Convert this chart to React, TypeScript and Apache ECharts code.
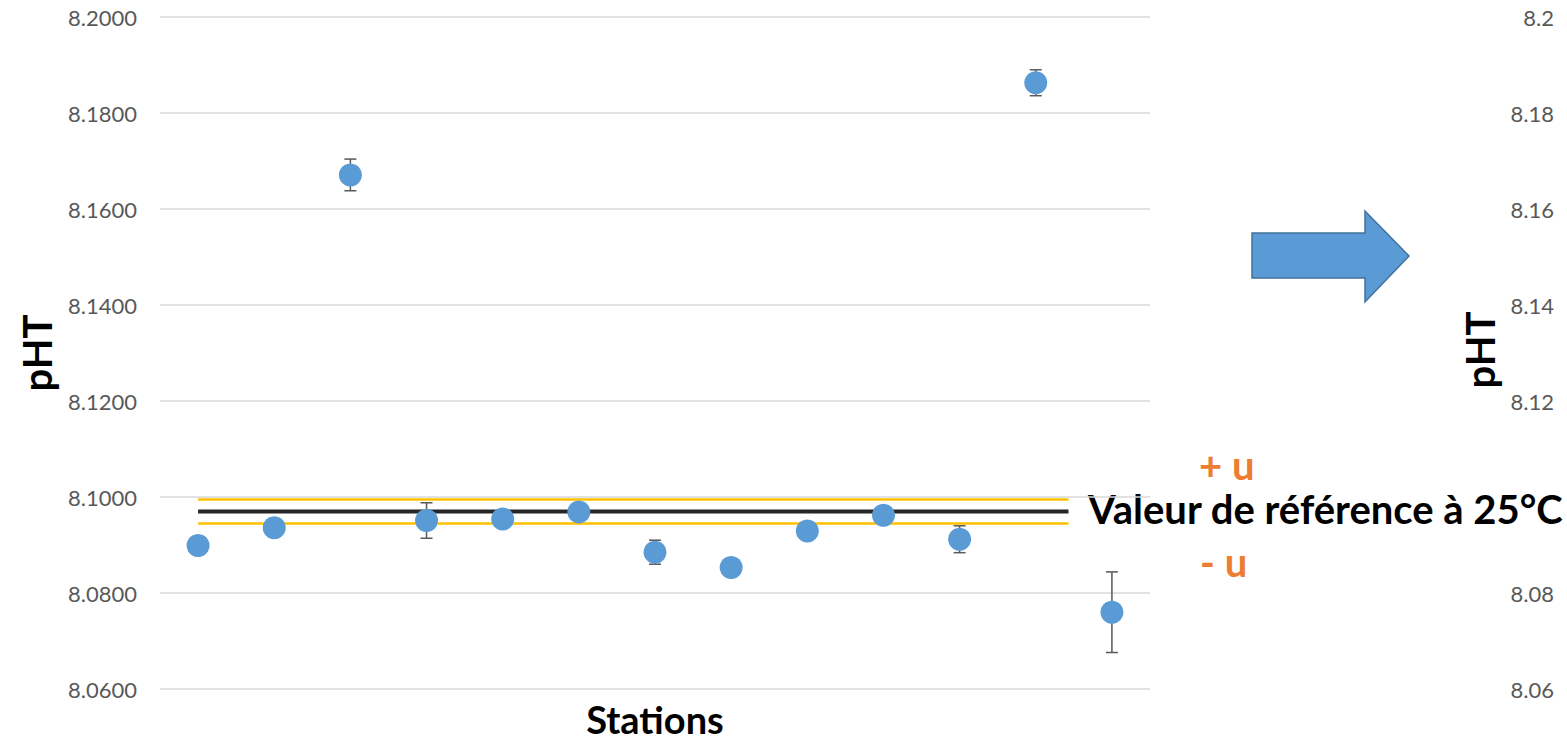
import React, { useEffect, useRef } from "react";
import * as echarts from "echarts";

const stations = ["1", "2", "3", "4", "5", "6", "7", "8", "9", "10", "11", "12", "13"];
const phValues = [8.0899, 8.0936, 8.1671, 8.0951, 8.0954, 8.0969, 8.0885, 8.0853, 8.0929, 8.0962, 8.0912, 8.1863, 8.0760];
const phErrors = [0, 0, 0.0033, 0.0037, 0, 0, 0.0025, 0, 0, 0, 0.0028, 0.0027, 0.0084];
const refValue = 8.097;
const refU = 0.0025;
const refLineSpan = [0, 11.43];
const yTicks = { min: 8.06, max: 8.2, interval: 0.02 };

const FONT = "Lato";

export default function App() {
  const ref = useRef<HTMLDivElement>(null);
  useEffect(() => {
    if (!ref.current) return;
    const chart = echarts.init(ref.current, null, { renderer: "svg" });
    const points = stations.map((_, i) => [i, phValues[i]]);
    const bars = stations
      .map((_, i) => [i, phValues[i] - phErrors[i], phValues[i] + phErrors[i], phErrors[i]])
      .filter((d) => d[3] > 0);
    const hline = (v: number) => refLineSpan.map((x) => [x, v]);

    chart.setOption({
      animation: false,
      grid: { left: 160, right: 417, top: 17, bottom: 55, outerBoundsMode: "none", containLabel: false },
      xAxis: {
        type: "value",
        min: -0.5,
        max: 12.5,
        axisLine: { show: false },
        axisTick: { show: false },
        axisLabel: { show: false },
        splitLine: { show: false },
        name: "Stations",
        nameLocation: "middle",
        nameGap: 11,
        nameTextStyle: { fontFamily: FONT, fontWeight: "bold", fontSize: 38, lineHeight: 38, color: "#000" },
      },
      yAxis: [
        {
          type: "value",
          min: yTicks.min,
          max: yTicks.max,
          interval: yTicks.interval,
          axisLine: { show: false },
          axisTick: { show: false },
          axisLabel: {
            fontFamily: FONT,
            fontSize: 22,
            color: "#595959",
            margin: 23,
            formatter: (v: number) => v.toFixed(4),
          },
          splitLine: { lineStyle: { color: "#D9D9D9", width: 1.5 } },
          name: "pHT",
          nameLocation: "middle",
          nameGap: 101,
          nameTextStyle: { fontFamily: FONT, fontWeight: "bold", fontSize: 40, color: "#000" },
        },
        {
          type: "value",
          position: "right",
          min: yTicks.min,
          max: yTicks.max,
          interval: yTicks.interval,
          offset: 396,
          axisLine: { show: false },
          axisTick: { show: false },
          splitLine: { show: false },
          axisLabel: {
            fontFamily: FONT,
            fontSize: 22,
            color: "#595959",
            margin: 8,
            align: "right",
            formatter: (v: number) => {
              const s = String(parseFloat(v.toFixed(2)));
              return Math.abs(v - 8.1) < 1e-6 ? "" : s;
            },
          },
        },
      ],
      series: [
        {
          type: "line",
          data: hline(refValue + refU),
          symbol: "none",
          lineStyle: { color: "#FFC000", width: 2.5 },
          z: 1,
        },
        {
          type: "line",
          data: hline(refValue - refU),
          symbol: "none",
          lineStyle: { color: "#FFC000", width: 2.5 },
          z: 1,
        },
        {
          type: "line",
          data: hline(refValue),
          symbol: "none",
          lineStyle: { color: "#262626", width: 4 },
          z: 1,
        },
        {
          type: "custom",
          data: bars,
          z: 2,
          renderItem: (params: any, api: any) => {
            const x = api.value(0);
            const lo = api.coord([x, api.value(1)]);
            const hi = api.coord([x, api.value(2)]);
            const w = 6;
            const style = { stroke: "#595959", lineWidth: 1.5 };
            return {
              type: "group",
              children: [
                { type: "line", shape: { x1: lo[0], y1: lo[1], x2: hi[0], y2: hi[1] }, style },
                { type: "line", shape: { x1: lo[0] - w, y1: lo[1], x2: lo[0] + w, y2: lo[1] }, style },
                { type: "line", shape: { x1: hi[0] - w, y1: hi[1], x2: hi[0] + w, y2: hi[1] }, style },
              ],
            };
          },
        },
        {
          type: "scatter",
          data: points,
          symbol: "circle",
          symbolSize: 23,
          itemStyle: { color: "#5B9BD5", opacity: 1 },
          z: 3,
        },
      ],
      graphic: [
        {
          type: "polygon",
          shape: {
            points: [
              [1252, 233],
              [1365, 233],
              [1365, 211],
              [1409, 256],
              [1365, 302],
              [1365, 278],
              [1252, 278],
            ],
          },
          style: { fill: "#5B9BD5", stroke: "#41719C", lineWidth: 1.5 },
        },
        {
          type: "text",
          x: 1199,
          y: 465,
          style: {
            text: "+ u",
            fontFamily: FONT,
            fontWeight: "bold",
            fontSize: 40,
            fill: "#ED7D31",
            align: "left",
            verticalAlign: "middle",
          },
        },
        {
          type: "text",
          x: 1088,
          y: 509,
          style: {
            text: "Valeur de référence à 25°C",
            fontFamily: FONT,
            fontWeight: "bold",
            fontSize: 40,
            fill: "#000",
            align: "left",
            verticalAlign: "middle",
          },
        },
        {
          type: "text",
          x: 1200,
          y: 562,
          style: {
            text: "- u",
            fontFamily: FONT,
            fontWeight: "bold",
            fontSize: 40,
            fill: "#ED7D31",
            align: "left",
            verticalAlign: "middle",
          },
        },
        {
          type: "text",
          x: 1480,
          y: 350,
          rotation: Math.PI / 2,
          style: {
            text: "pHT",
            fontFamily: FONT,
            fontWeight: "bold",
            fontSize: 40,
            fill: "#000",
            align: "center",
            verticalAlign: "middle",
          },
        },
      ],
    });
    return () => chart.dispose();
  }, []);
  return (
    <div
      ref={ref}
      style={{ position: "fixed", left: 0, top: 0, width: 1567, height: 744, background: "#fff" }}
    />
  );
}
